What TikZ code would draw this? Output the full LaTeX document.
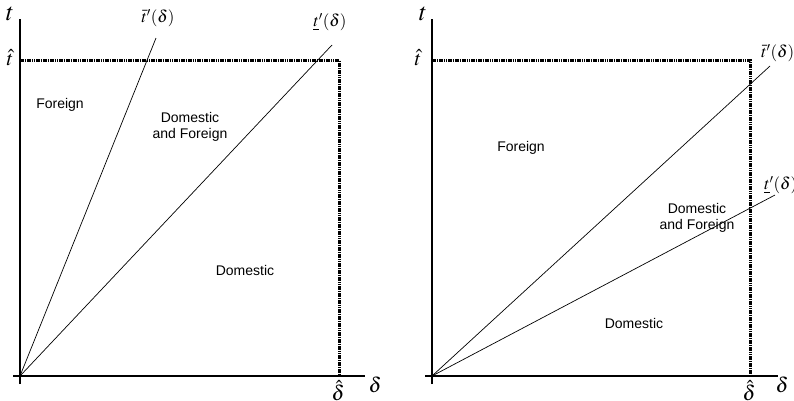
\documentclass[tikz,border=0pt]{standalone}
\usepackage{mathptmx}
\usepackage{fontspec}
\setmainfont{Liberation Sans}
\usepackage{tikz}

\begin{document}
\begin{tikzpicture}[
  x=1pt,y=-1pt,
  axis/.style={line width=1.6pt},
  bound/.style={line width=3pt, dash pattern=on 1.6pt off 0.7pt},
  ray/.style={line width=0.7pt},
  region/.style={font=\fontsize{14}{16}\selectfont, align=center, inner sep=0pt},
  big/.style={font=\fontsize{25}{27}\selectfont, inner sep=0pt},
  mid/.style={font=\fontsize{21}{23}\selectfont, inner sep=0pt},
  lab/.style={font=\fontsize{17}{19}\selectfont, inner sep=0pt}
]
\useasboundingbox (0,0) rectangle (794,400);
% left panel
\coordinate (oL) at (20,376);
\coordinate (topL) at (20,19);
\coordinate (botL) at (20,384);
\coordinate (startL) at (13,376);
\coordinate (endL) at (365,376);
\coordinate (cL) at (339,60);
\coordinate (hiL) at (156,38);
\coordinate (loL) at (332,45);
\draw[axis] (botL) -- (topL);
\draw[axis] (startL) -- (endL);
\draw[bound] (oL |- cL) -- (cL) -- (oL -| cL);
\draw[ray] (oL) -- (hiL);
\draw[ray] (oL) -- (loL);
\node[big] (tL) at (10,14) {$t$};
\node[mid] (thL) at (10,58) {$\hat{t}$};
\node[mid] (dhL) at (338,391) {$\hat{\delta}$};
\node[mid] (dL) at (375,385) {$\delta$};
\node[lab] (hiLab) at (158,18) {$\bar{t}'(\delta)$};
\node[lab] (loLab) at (330,22) {$\underline{t}'(\delta)$};
\node[region] (forL) at (60,105) {Foreign};
\node[region] (bothL) at (190,127) {Domestic\\and Foreign};
\node[region] (domL) at (245,270) {Domestic};
% right panel
\coordinate (oR) at (432,376);
\coordinate (topR) at (432,19);
\coordinate (botR) at (432,384);
\coordinate (startR) at (425,376);
\coordinate (endR) at (778,376);
\coordinate (cR) at (750,60);
\coordinate (hiR) at (770,66);
\coordinate (loR) at (775,195);
\draw[axis] (botR) -- (topR);
\draw[axis] (startR) -- (endR);
\draw[bound] (oR |- cR) -- (cR) -- (oR -| cR);
\draw[ray] (oR) -- (hiR);
\draw[ray] (oR) -- (loR);
\node[big] (tR) at (423,14) {$t$};
\node[mid] (thR) at (418,58) {$\hat{t}$};
\node[mid] (dhR) at (749,391) {$\hat{\delta}$};
\node[mid] (dR) at (782,385) {$\delta$};
\node[lab, anchor=west] (hiLabR) at (761,53) {$\bar{t}'(\delta)$};
\node[lab, anchor=west] (loLabR) at (764,185) {$\underline{t}'(\delta)$};
\node[region] (forR) at (521,148) {Foreign};
\node[region] (bothR) at (697,218) {Domestic\\and Foreign};
\node[region] (domR) at (634,323) {Domestic};
\end{tikzpicture}
\end{document}
